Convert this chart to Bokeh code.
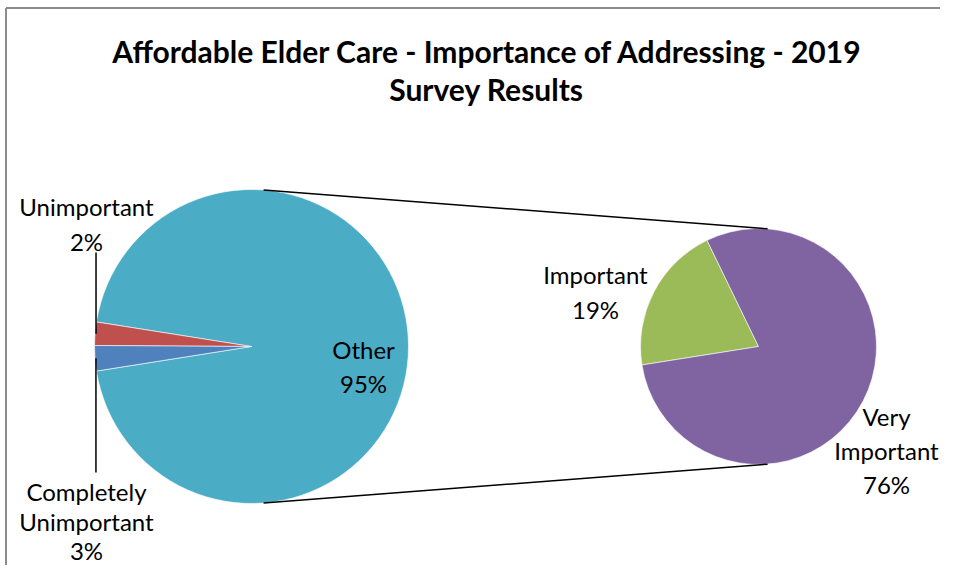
import numpy as np
from bokeh.plotting import figure
from bokeh.models import Range1d, ColumnDataSource
from bokeh.core.properties import value
from bokeh.embed import file_html
from bokeh.resources import INLINE

# ---- data ----
title_lines = ["Affordable Elder Care - Importance of Addressing - 2019", "Survey Results"]
main_categories = ["Other", "Unimportant", "Completely Unimportant"]
main_values = [95.0, 2.4, 2.6]
main_colors = ["#4BACC6", "#C0504D", "#4F81BD"]
sec_categories = ["Important", "Very Important"]
sec_values = [19.3, 75.7]
sec_colors = ["#9BBB59", "#8064A2"]

FONT = "Lato"
W, H = 940, 565


def sy(y):
    return 581 - y


p = figure(width=W, height=H, output_backend="svg", toolbar_location=None,
           x_range=Range1d(0, W), y_range=Range1d(581 - H, 581), min_border=0)
p.axis.visible = False
p.grid.visible = False
p.outline_line_color = None
p.background_fill_color = "white"
p.border_fill_color = "white"

# chart frame (left & top edges visible)
p.segment(x0=[5.5, 5.5], y0=[sy(7.5), sy(7.5)], x1=[5.5, 960], y1=[0, sy(7.5)],
          line_color="#8c8c8c", line_width=2)

# geometry
c1 = (251.0, sy(346))
r1 = 157.0
c2 = (758.0, sy(346))
r2 = 118.0

# main pie: 'Other' centred on 0 deg
other_span = main_values[0] * 3.6
starts, ends = [], []
a = -other_span / 2
for v in main_values:
    starts.append(a)
    a += v * 3.6
    ends.append(a)
src1 = ColumnDataSource(dict(start=np.radians(starts), end=np.radians(ends), color=main_colors))
p.wedge(x=c1[0], y=c1[1], radius=r1, start_angle="start", end_angle="end",
        fill_color="color", line_color="white", line_width=0.6, source=src1)

# secondary pie
total_sec = sum(sec_values)
sec_end_first = 189.0
s_starts, s_ends = [], []
a = sec_end_first - sec_values[0] / total_sec * 360
for v in sec_values:
    s_starts.append(a)
    a += v / total_sec * 360
    s_ends.append(a)
src2 = ColumnDataSource(dict(start=np.radians(s_starts), end=np.radians(s_ends), color=sec_colors))
p.wedge(x=c2[0], y=c2[1], radius=r2, start_angle="start", end_angle="end",
        fill_color="color", line_color="white", line_width=0.6, source=src2)

# connector lines: external tangents
d = c2[0] - c1[0]
th = np.arccos((r1 - r2) / d)
p.segment(x0=[c1[0] + r1 * np.cos(th), c1[0] + r1 * np.cos(th)],
          y0=[c1[1] + r1 * np.sin(th), c1[1] - r1 * np.sin(th)],
          x1=[c2[0] + r2 * np.cos(th), c2[0] + r2 * np.cos(th)],
          y1=[c2[1] + r2 * np.sin(th), c2[1] - r2 * np.sin(th)],
          line_color="black", line_width=1.5)

# leader lines for small slices
mid_red = np.radians((starts[1] + ends[1]) / 2)
mid_blue = np.radians((starts[2] + ends[2]) / 2)
p.segment(x0=[c1[0] + r1 * np.cos(mid_red) + 1, c1[0] + r1 * np.cos(mid_blue) + 1],
          y0=[c1[1] + r1 * np.sin(mid_red), c1[1] + r1 * np.sin(mid_blue)],
          x1=[c1[0] + r1 * np.cos(mid_red) + 1, c1[0] + r1 * np.cos(mid_blue) + 1],
          y1=[sy(252), sy(472)], line_color="black", line_width=1.5)

# title
p.text(x=[487, 486], y=[sy(50), sy(88)], text=title_lines, text_font=value(FONT),
       text_font_style="bold", text_font_size="30px", text_align="center",
       text_baseline="middle", text_color="black")


def label(lines, cx, ys):
    p.text(x=[cx] * len(lines), y=[sy(v) for v in ys], text=lines, text_font=value(FONT),
           text_font_size="24px", text_align="center", text_baseline="middle",
           text_color="black")


def pct(v):
    return f"{round(v):.0f}%"


label(["Unimportant", pct(main_values[1])], 86, [206, 241])
label(["Completely", "Unimportant", pct(main_values[2])], 86, [491, 521, 550])
label([main_categories[0], pct(main_values[0])], 363, [349, 383])
label([sec_categories[0], pct(sec_values[0])], 595, [274, 309])
label(["Very", "Important", pct(sec_values[1])], 886, [416, 450, 484])

open("out.html", "w").write(file_html(p, INLINE))
